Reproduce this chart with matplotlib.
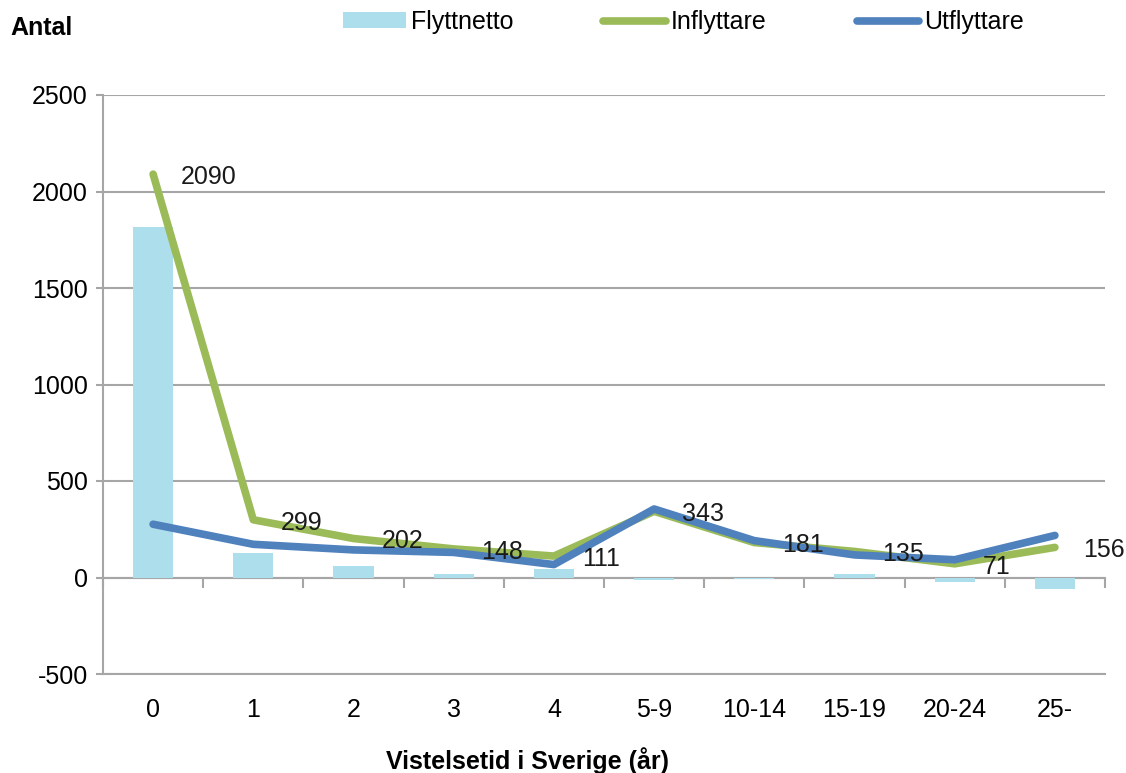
import numpy as np
import matplotlib
matplotlib.use("Agg")
import matplotlib.pyplot as plt

# ================= DATA =================
kategorier = ["0", "1", "2", "3", "4", "5-9", "10-14", "15-19", "20-24", "25-"]
inflyttare = [2090, 299, 202, 148, 111, 343, 181, 135, 71, 156]
utflyttare = [276, 172, 143, 130, 67, 355, 191, 117, 92, 218]
flyttnetto = [i - u for i, u in zip(inflyttare, utflyttare)]

# ================= STYLE =================
plt.rcParams['font.family'] = ['Liberation Sans', 'DejaVu Sans']
plt.rcParams['axes.unicode_minus'] = False
FS = 18
GRID = '#A6A6A6'
C_BAR = '#ACDEEC'
C_IN = '#9BBB59'
C_UT = '#4F81BD'

fig = plt.figure(figsize=(11.26, 7.73), dpi=100)
ax = fig.add_axes([103 / 1126, 1 - 674 / 773, 1002 / 1126, 579 / 773])

x = np.arange(len(kategorier))

h_bar = ax.bar(x, flyttnetto, width=0.4, color=C_BAR, label='Flyttnetto', zorder=2)
h_in, = ax.plot(x, inflyttare, color=C_IN, lw=5.5, label='Inflyttare', zorder=3,
                solid_capstyle='round', solid_joinstyle='round')
h_ut, = ax.plot(x, utflyttare, color=C_UT, lw=5.5, label='Utflyttare', zorder=4,
                solid_capstyle='round', solid_joinstyle='round')

# data labels for Inflyttare
for xi, v in zip(x, inflyttare):
    ax.annotate(str(v), (xi, v), xytext=(20, -2), textcoords='offset points',
                ha='left', va='center', fontsize=FS, color='#1a1a1a', zorder=5)

ax.set_xlim(-0.5, len(kategorier) - 0.5)
ax.set_ylim(-500, 2500)
ax.set_yticks(np.arange(-500, 2501, 500))
ax.grid(axis='y', color=GRID, lw=1.5, zorder=0)
ax.set_axisbelow(True)

for s in ['top', 'right']:
    ax.spines[s].set_visible(False)
ax.spines['bottom'].set_color(GRID)
ax.spines['bottom'].set_linewidth(1.5)
ax.spines['left'].set_color(GRID)
ax.spines['left'].set_linewidth(1.5)

ax.set_xticks(x)
ax.set_xticklabels(kategorier)
ax.tick_params(axis='x', length=0, pad=17, labelsize=FS)
ax.tick_params(axis='y', length=5, color=GRID, width=1.5, pad=6, labelsize=FS)

# category axis crossing at zero
sec = ax.secondary_xaxis(500 / 3000)
sec.set_xticks(np.arange(-0.5, len(kategorier), 1.0))
sec.tick_params(axis='x', length=7, width=1.5, color=GRID, labelbottom=False,
                direction='out')
sec.spines['bottom'].set_color(GRID)
sec.spines['bottom'].set_linewidth(1.5)

fig.legend([h_bar, h_in, h_ut], ['Flyttnetto', 'Inflyttare', 'Utflyttare'],
           loc='center left', bbox_to_anchor=(0.305, 1 - 22 / 773), ncol=3,
           frameon=False, fontsize=FS, handlelength=2.5, handletextpad=0.2,
           columnspacing=3.6, borderpad=0, borderaxespad=0, handleheight=0.6)

fig.text(10 / 1126, 1 - 28 / 773, 'Antal', fontsize=FS, fontweight='bold',
         ha='left', va='center')
fig.text(527 / 1126, 1 - 761 / 773, 'Vistelsetid i Sverige (år)', fontsize=FS,
         fontweight='bold', ha='center', va='center')

fig.savefig('out.png', dpi=100)
